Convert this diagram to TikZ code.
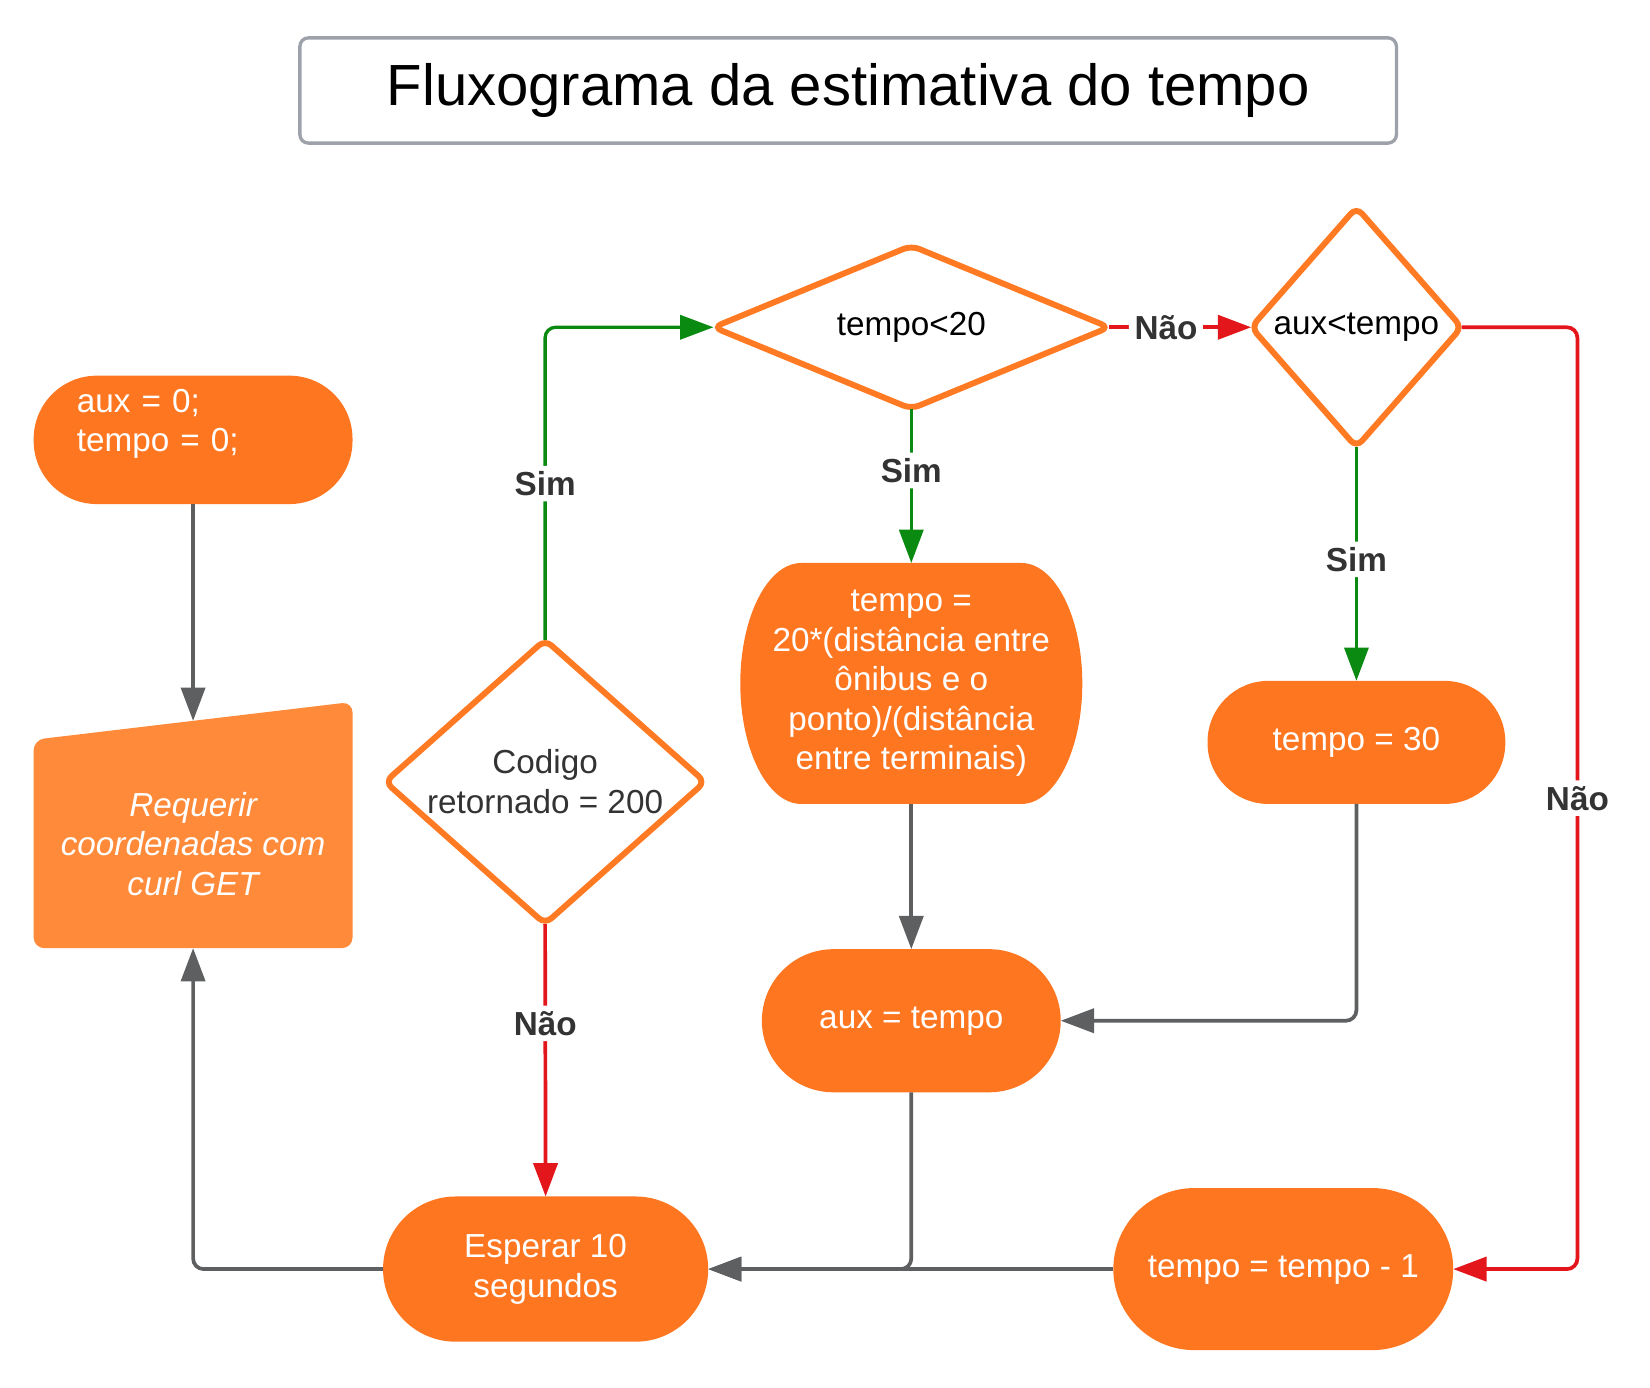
\documentclass[tikz,border=0pt]{standalone}
\usepackage{fontspec}
\setmainfont{Liberation Sans}
\usetikzlibrary{arrows.meta,shapes.geometric,calc}
\definecolor{boxorange}{HTML}{FF7621}
\definecolor{inputorange}{HTML}{FF8A3A}
\definecolor{edgeorange}{HTML}{FF7A22}
\definecolor{yesgreen}{HTML}{0B8A12}
\definecolor{nored}{HTML}{E3161B}
\definecolor{flowgray}{HTML}{5E5F61}
\definecolor{labelgray}{HTML}{333333}
\definecolor{framegray}{HTML}{9DA2AA}
\pgfdeclarelayer{background}
\pgfsetlayers{background,main}

\tikzset{
  procbox/.style={rectangle, fill=boxorange, text=white, align=center, outer sep=0pt},
  decision/.style={diamond, draw=edgeorange, line width=1.6pt, fill=white, rounded corners=0.08cm,
                   inner sep=0pt, outer sep=0pt, align=center},
  yesline/.style={yesgreen, line width=0.9pt, rounded corners=0.1cm, ->},
  noline/.style={nored, line width=1pt, rounded corners=0.1cm, ->},
  flowline/.style={flowgray, line width=1pt, rounded corners=0.1cm, ->},
  tag/.style={fill=white, text=labelgray, font=\fontsize{9}{10}\selectfont\bfseries, inner sep=1.5pt},
}

\begin{document}
\begin{tikzpicture}[>={Triangle[length=9pt,width=6.5pt]}, font=\fontsize{9}{10.7}\selectfont]
  \useasboundingbox (0,0) rectangle (15.68,-13.19);

  \node[draw=framegray, line width=0.9pt, rounded corners=0.08cm, minimum width=10.42cm, minimum height=1cm,
        font=\fontsize{15.7}{19}\selectfont] (title) at (8.06,-0.86) {Fluxograma da estimativa do tempo};

  \node[procbox, rounded corners=0.6cm, minimum width=3.03cm, minimum height=1.22cm, text width=2.21cm,
        inner xsep=0.41cm, inner ysep=0pt, align=left] (start) at (1.835,-4.18) {aux = 0;\\tempo = 0;\\[-0.12cm]\strut};
  \node[rectangle, outer sep=0pt, minimum width=3.03cm, minimum height=1.98cm, text=white,
        align=center, font=\fontsize{9}{10.7}\selectfont\itshape] (req) at (1.835,-8.02) {Requerir\\coordenadas com\\curl GET};
  \coordinate (reqtop) at ($(req.north)+(0,0.18)$);

  \node[decision, text=labelgray, minimum width=3.04cm, minimum height=2.7cm, aspect=1.12] (codigo) at (5.18,-7.43) {Codigo\\retornado = 200};
  \node[decision, minimum width=3.76cm, minimum height=1.55cm, aspect=2.44] (t20) at (8.66,-3.11) {tempo<20};
  \node[decision, minimum width=2cm, minimum height=2.28cm, aspect=0.87] (auxt) at (12.89,-3.11) {aux<tempo};

  \node[procbox, fill=none, minimum width=3.25cm, minimum height=2.29cm] (calc) at (8.66,-6.495)
    {tempo =\\20*(distância entre\\ônibus e o\\ponto)/(distância\\entre terminais)};
  \node[procbox, rounded corners=0.58cm, minimum width=2.83cm, minimum height=1.17cm] (t30) at (12.89,-7.055) {tempo = 30};
  \node[procbox, rounded corners=0.68cm, minimum width=2.84cm, minimum height=1.36cm] (auxeq) at (8.66,-9.70) {aux = tempo};
  \node[procbox, rounded corners=0.69cm, minimum width=3.09cm, minimum height=1.38cm] (esperar) at (5.185,-12.06) {Esperar 10\\segundos};
  \node[procbox, rounded corners=0.77cm, minimum width=3.23cm, minimum height=1.54cm] (dec) at (12.195,-12.06) {tempo = tempo - 1};

  \begin{pgfonlayer}{background}
    \fill[inputorange, rounded corners=0.1cm] (req.south west) -- (req.north west)
      -- ($(req.north east)+(0,0.36)$) -- (req.south east) -- cycle;
    \fill[boxorange] ($(calc.north west)+(0.58,0)$) -- ($(calc.north east)+(-0.58,0)$)
      arc[start angle=90, end angle=-90, x radius=0.58, y radius=1.145]
      -- ($(calc.south west)+(0.58,0)$)
      arc[start angle=270, end angle=90, x radius=0.58, y radius=1.145] -- cycle;
  \end{pgfonlayer}

  \draw[flowline] (start.south) -- (reqtop);
  \draw[yesline] (codigo.north) |- node[tag, pos=0.25] {Sim} (t20.west);
  \draw[noline] (codigo.south) -- node[tag, pos=0.365] {Não} (esperar.north);
  \draw[yesline] (t20.south) -- node[tag, pos=0.4] {Sim} (calc.north);
  \draw[noline] (t20.east) -- node[tag, pos=0.4] {Não} (auxt.west);
  \draw[yesline] (auxt.south) -- node[tag, pos=0.48] {Sim} (t30.north);
  \draw[noline] (auxt.east) -- ++(1.1,0) |- node[tag, pos=0.25] {Não} (dec.east);
  \draw[flowline] (calc.south) -- (auxeq.north);
  \draw[flowline] (t30.south) |- (auxeq.east);
  \draw[flowline] (auxeq.south) |- (esperar.east);
  \draw[flowline] (dec.west) -- (esperar.east);
  \draw[flowline] (esperar.west) -| (req.south);
\end{tikzpicture}
\end{document}
